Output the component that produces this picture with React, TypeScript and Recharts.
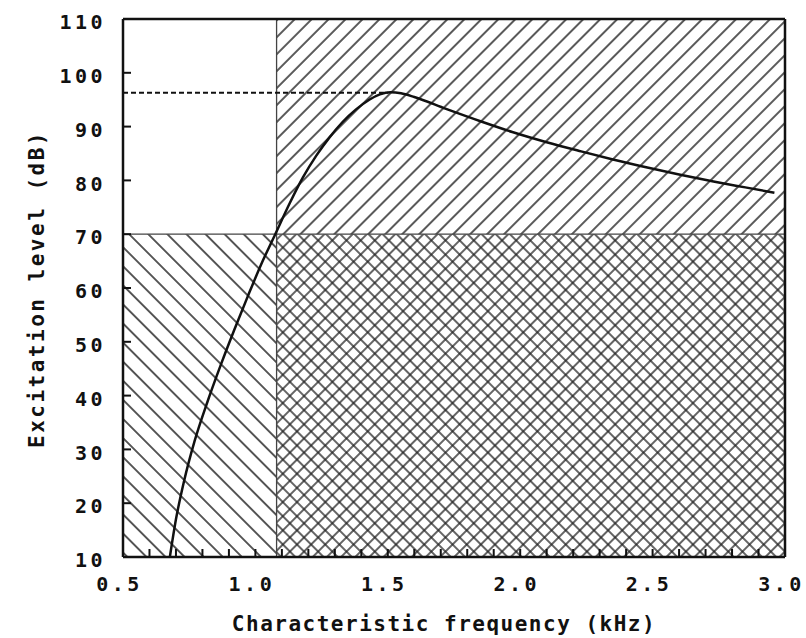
import {
  ComposedChart,
  Label,
  Line,
  ReferenceArea,
  ReferenceLine,
  XAxis,
  YAxis,
} from "recharts";

// excitation pattern (kHz, dB)
const freq = [
  0.677, 0.7, 0.73, 0.77, 0.82, 0.87, 0.92, 0.97, 1.02, 1.075, 1.13, 1.18, 1.23, 1.28, 1.33,
  1.38, 1.43, 1.47, 1.51, 1.55, 1.6, 1.72, 1.85, 1.97, 2.1, 2.23, 2.35, 2.48, 2.6, 2.73,
  2.85, 2.96,
];
const level = [
  10, 17, 24, 31.5, 39, 45.8, 52.2, 58.3, 64.2, 70, 75.8, 80.6, 84.6, 88, 90.9,
  93.2, 95, 96, 96.4, 96.2, 95.5, 93.3, 91.0, 89.0, 87.1, 85.4, 83.9, 82.4, 81.1, 79.8,
  78.7, 77.7,
];

const xTicks = [
  0.5, 0.6, 0.7, 0.8, 0.9, 1.0, 1.1, 1.2, 1.3, 1.4, 1.5, 1.6, 1.7, 1.8, 1.9, 2.0,
  2.1, 2.2, 2.3, 2.4, 2.5, 2.6, 2.7, 2.8, 2.9, 3.0,
];
const yTicks = [10, 20, 30, 40, 50, 60, 70, 80, 90, 100, 110];

const xDomain = [0.5, 3.0];
const yDomain = [10, 110];
const edgeFreq = 1.08;
const edgeLevel = 70;
const peakFreq = 1.5;
const peakLevel = 96.3;

const data = freq.map((f, i) => ({ freq: f, level: level[i] }));

const FONT = "'DejaVu Sans Mono', 'Liberation Mono', monospace";
const INK = "#111";
const HATCH = "#222";

function BottomTick({ x, y, payload }: any) {
  const v = payload.value as number;
  if (Math.round(v * 10) % 5 !== 0) return null;
  return (
    <text
      x={x - 3.5}
      y={y}
      dy="0.71em"
      textAnchor="middle"
      fontFamily={FONT}
      fontSize={20}
      fontWeight="bold"
      letterSpacing={3.5}
      fill={INK}
    >
      {v.toFixed(1)}
    </text>
  );
}

function LeftTick({ x, y, payload }: any) {
  return (
    <text
      x={x}
      y={y + 3}
      dy="0.355em"
      textAnchor="end"
      fontFamily={FONT}
      fontSize={20}
      fontWeight="bold"
      letterSpacing={3.5}
      fill={INK}
    >
      {payload.value}
    </text>
  );
}

function XTitle({ viewBox }: any) {
  return (
    <text
      x={viewBox.x + viewBox.width / 2 - 10}
      y={viewBox.y + viewBox.height - 7}
      textAnchor="middle"
      fontFamily={FONT}
      fontSize={21}
      fontWeight="bold"
      letterSpacing={1.5}
      fill={INK}
    >
      Characteristic frequency (kHz)
    </text>
  );
}

function YTitle({ viewBox }: any) {
  const cx = viewBox.x + 44;
  const cy = viewBox.y + viewBox.height / 2 + 1;
  return (
    <text
      x={cx}
      y={cy}
      transform={`rotate(-90, ${cx}, ${cy})`}
      textAnchor="middle"
      fontFamily={FONT}
      fontSize={21}
      fontWeight="bold"
      letterSpacing={2.5}
      fill={INK}
    >
      Excitation level (dB)
    </text>
  );
}

const axisLine = { stroke: INK, strokeWidth: 2.5 };
const tickLine = { stroke: INK, strokeWidth: 2 };

export default function App() {
  return (
    <div style={{ position: "fixed", left: 0, top: 0, background: "#fff" }}>
      <ComposedChart
        width={806}
        height={638}
        data={data}
        margin={{ top: 18, right: 18, bottom: 0, left: 0 }}
      >
        <defs>
          {/* "/" hatching above the level edge */}
          <pattern id="hatchUp" patternUnits="userSpaceOnUse" width={12} height={12} patternTransform="rotate(45)">
            <line x1={6} y1={0} x2={6} y2={12} stroke={HATCH} strokeWidth={1.5} />
          </pattern>
          {/* "\" hatching left of the frequency edge */}
          <pattern id="hatchDown" patternUnits="userSpaceOnUse" width={13.5} height={13.5} patternTransform="rotate(-45)">
            <line x1={6.75} y1={0} x2={6.75} y2={13.5} stroke={HATCH} strokeWidth={1.5} />
          </pattern>
          <pattern id="cross" patternUnits="userSpaceOnUse" width={10} height={10} patternTransform="rotate(45)">
            <line x1={5} y1={0} x2={5} y2={10} stroke={HATCH} strokeWidth={1.4} />
            <line x1={0} y1={5} x2={10} y2={5} stroke={HATCH} strokeWidth={1.4} />
          </pattern>
        </defs>

        <XAxis
          dataKey="freq"
          type="number"
          domain={xDomain}
          ticks={xTicks}
          interval={0}
          allowDataOverflow
          height={81}
          axisLine={axisLine}
          tickLine={tickLine}
          tickSize={-8}
          tickMargin={28}
          tick={<BottomTick />}
        >
          <Label content={<XTitle />} />
        </XAxis>
        <XAxis
          xAxisId="top"
          orientation="top"
          type="number"
          domain={xDomain}
          ticks={xTicks}
          interval={0}
          allowDataOverflow
          height={1}
          axisLine={axisLine}
          tickLine={tickLine}
          tickSize={-8}
          tick={false}
        />
        <YAxis
          type="number"
          domain={yDomain}
          ticks={yTicks}
          interval={0}
          allowDataOverflow
          width={123}
          axisLine={axisLine}
          tickLine={tickLine}
          tickSize={-8}
          tickMargin={25}
          tick={<LeftTick />}
        >
          <Label content={<YTitle />} />
        </YAxis>
        <YAxis
          yAxisId="right"
          orientation="right"
          type="number"
          domain={yDomain}
          ticks={yTicks}
          interval={0}
          allowDataOverflow
          width={3}
          axisLine={axisLine}
          tickLine={tickLine}
          tickSize={-8}
          tick={false}
        />

        <ReferenceArea
          x1={edgeFreq}
          x2={xDomain[1]}
          y1={edgeLevel}
          y2={yDomain[1]}
          fill="url(#hatchUp)"
          fillOpacity={1}
          stroke="none"
        />
        <ReferenceArea
          x1={xDomain[0]}
          x2={edgeFreq}
          y1={yDomain[0]}
          y2={edgeLevel}
          fill="url(#hatchDown)"
          fillOpacity={1}
          stroke="none"
        />
        <ReferenceArea
          x1={edgeFreq}
          x2={xDomain[1]}
          y1={yDomain[0]}
          y2={edgeLevel}
          fill="url(#cross)"
          fillOpacity={1}
          stroke="none"
        />
        <ReferenceLine x={edgeFreq} stroke="#444" strokeWidth={1.3} />
        <ReferenceLine y={edgeLevel} stroke="#444" strokeWidth={1.3} />
        <ReferenceLine
          segment={[
            { x: xDomain[0], y: peakLevel },
            { x: peakFreq, y: peakLevel },
          ]}
          stroke={INK}
          strokeWidth={2}
          strokeDasharray="5 3"
        />

        <Line
          dataKey="level"
          type="monotone"
          stroke={INK}
          strokeWidth={2.5}
          dot={false}
          activeDot={false}
          isAnimationActive={false}
        />
      </ComposedChart>
    </div>
  );
}
